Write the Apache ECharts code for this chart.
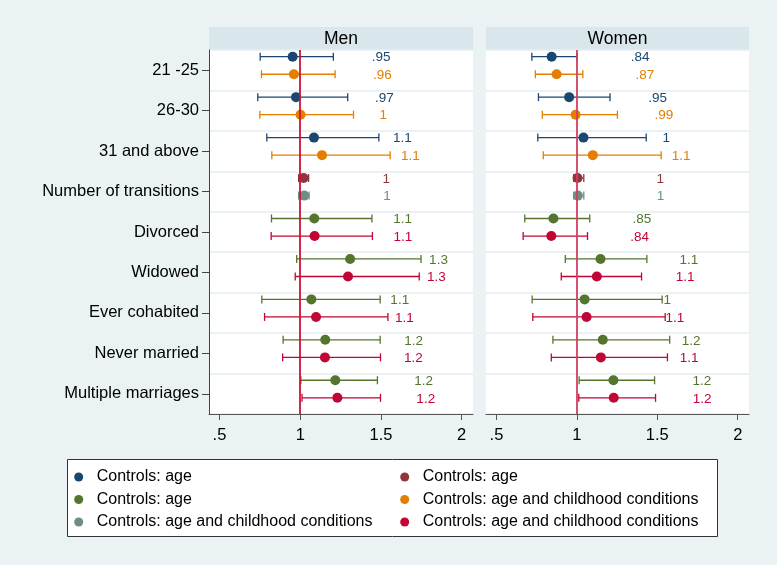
<!DOCTYPE html>
<html>
<head>
<meta charset="utf-8">
<script src="https://cdn.jsdelivr.net/npm/echarts@6/dist/echarts.min.js"></script>
<style>html,body{margin:0;padding:0;background:#eaf2f3;}#c{width:777px;height:565px;}</style>
</head>
<body>
<div id="c"></div>
<script>
// ---------- data ----------
const categories = ['21 -25', '26-30', '31 and above', 'Number of transitions', 'Divorced', 'Widowed', 'Ever cohabited', 'Never married', 'Multiple marriages'];
const panels = ['Men', 'Women'];
const xTicks = [0.5, 1, 1.5, 2];
const legendLabels = ['Controls: age', 'Controls: age', 'Controls: age', 'Controls: age and childhood conditions', 'Controls: age and childhood conditions', 'Controls: age and childhood conditions'];
// each row: [lower CI, estimate, upper CI]
const menNavy = [[0.752, 0.953, 1.205], [0.737, 0.974, 1.294], [0.793, 1.085, 1.487]];
const menOrange = [[0.760, 0.961, 1.216], [0.750, 1.002, 1.330], [0.824, 1.135, 1.557]];
const menMaroon = [[0.990, 1.021, 1.052]];
const menTeal = [[0.990, 1.025, 1.055]];
const menGreen = [[0.822, 1.087, 1.444], [0.978, 1.309, 1.748], [0.762, 1.069, 1.495], [0.894, 1.155, 1.495], [1.004, 1.217, 1.478]];
const menCranberry = [[0.820, 1.089, 1.447], [0.969, 1.296, 1.737], [0.779, 1.098, 1.543], [0.891, 1.153, 1.497], [1.011, 1.230, 1.497]];
const womenNavy = [[0.720, 0.843, 1.000], [0.761, 0.952, 1.206], [0.757, 1.041, 1.431]];
const womenOrange = [[0.742, 0.874, 1.037], [0.785, 0.992, 1.252], [0.791, 1.099, 1.524]];
const womenMaroon = [[0.980, 1.004, 1.043]];
const womenTeal = [[0.980, 1.006, 1.043]];
const womenGreen = [[0.676, 0.854, 1.080], [0.928, 1.147, 1.435], [0.722, 1.048, 1.530], [0.851, 1.161, 1.577], [1.014, 1.227, 1.483]];
const womenCranberry = [[0.666, 0.841, 1.066], [0.903, 1.124, 1.402], [0.726, 1.060, 1.549], [0.841, 1.149, 1.563], [1.012, 1.229, 1.489]];
// first category row for each series group
const ageRowsStart = 0, transRowsStart = 3, maritalRowsStart = 4;

// ---------- styling ----------
const FONT = '"Liberation Sans", Arial, sans-serif';
const colors = ['#1a476f', '#90353b', '#55752f', '#e37e00', '#6e8e84', '#c10534'];
const seriesKeys = ['navy', 'maroon', 'green', 'orange', 'teal', 'cranberry'];
const slotOffset = { navy: -0.334, maroon: -0.334, green: -0.334, orange: 0.10, teal: 0.10, cranberry: 0.10 };

function fmt(v) {
  let s = String(Number(v.toPrecision(2)));
  return s.replace(/^0\./, '.');
}
function fmtTick(v) { return String(v).replace(/^0\./, '.'); }

function rows(arr, start) { return arr.map((r, i) => [r[0], r[1], r[2], start + i]); }

const panelData = [
  { navy: rows(menNavy, ageRowsStart), orange: rows(menOrange, ageRowsStart), maroon: rows(menMaroon, transRowsStart), teal: rows(menTeal, transRowsStart), green: rows(menGreen, maritalRowsStart), cranberry: rows(menCranberry, maritalRowsStart) },
  { navy: rows(womenNavy, ageRowsStart), orange: rows(womenOrange, ageRowsStart), maroon: rows(womenMaroon, transRowsStart), teal: rows(womenTeal, transRowsStart), green: rows(womenGreen, maritalRowsStart), cranberry: rows(womenCranberry, maritalRowsStart) }
];

function makeRender(off, color) {
  return function (params, api) {
    const lo = api.value(0), est = api.value(1), hi = api.value(2), cat = api.value(3);
    const pE = api.coord([est, cat]);
    const pL = api.coord([lo, cat]);
    const pH = api.coord([hi, cat]);
    const band = api.size([0, 1])[1];
    const y = pE[1] + band * off;
    const ls = { stroke: color, lineWidth: 1.3 };
    return {
      type: 'group',
      children: [
        { type: 'line', shape: { x1: pL[0], y1: y, x2: pH[0], y2: y }, style: ls },
        { type: 'line', shape: { x1: pL[0], y1: y - 4, x2: pL[0], y2: y + 4 }, style: ls },
        { type: 'line', shape: { x1: pH[0], y1: y - 4, x2: pH[0], y2: y + 4 }, style: ls },
        { type: 'circle', shape: { cx: pE[0], cy: y, r: 5 }, style: { fill: color } },
        { type: 'text', x: pE[0] + 79, y: y + 1, style: { text: fmt(est), fill: color, font: '13.5px ' + FONT, textAlign: 'left', textVerticalAlign: 'middle' } }
      ]
    };
  };
}

const grids = [
  { left: 209, top: 50, width: 264, height: 364, show: true, backgroundColor: '#ffffff', borderWidth: 0 },
  { left: 486, top: 50, width: 263, height: 364, show: true, backgroundColor: '#ffffff', borderWidth: 0 }
];
const xAxes = grids.map((g, i) => ({
  type: 'value', gridIndex: i, min: 0.435, max: 2.07,
  axisLine: { show: true, lineStyle: { color: '#555', width: 1 } },
  axisTick: { show: true, length: 6, customValues: xTicks, lineStyle: { color: '#555' } },
  axisLabel: { customValues: xTicks, formatter: fmtTick, color: '#000', fontSize: 16.5, fontFamily: FONT, margin: 13 },
  splitLine: { show: false }
}));
const yAxes = grids.map((g, i) => ({
  type: 'category', gridIndex: i, data: categories, inverse: true, boundaryGap: true,
  axisLine: { show: i === 0, lineStyle: { color: '#444', width: 1 } },
  axisTick: { show: i === 0, alignWithLabel: true, length: 7, lineStyle: { color: '#444' } },
  axisLabel: { show: i === 0, color: '#000', fontSize: 16.5, fontFamily: FONT, margin: 10 },
  splitLine: { show: true, lineStyle: { color: '#e6eef1', width: 1.5 } }
}));

const series = [];
[0, 1].forEach(p => {
  series.push({
    type: 'line', xAxisIndex: p, yAxisIndex: p, data: [], silent: true, z: 1,
    markLine: { silent: true, symbol: 'none', label: { show: false },
      lineStyle: { color: p === 0 ? '#cf1134' : '#d13f62', width: 1.8, type: 'solid' },
      data: [{ xAxis: 1 }] }
  });
  seriesKeys.forEach((k, si) => {
    series.push({
      name: 's' + si, type: 'custom', xAxisIndex: p, yAxisIndex: p, z: 3,
      itemStyle: { color: colors[si] },
      encode: { x: [0, 1, 2], y: 3 },
      renderItem: makeRender(slotOffset[k], colors[si]),
      data: panelData[p][k]
    });
  });
});

const legendCommon = {
  orient: 'vertical', icon: 'circle', itemWidth: 9, itemHeight: 9, itemGap: 6.5,
  padding: 0,
  textStyle: { color: '#000', fontSize: 16, fontFamily: FONT, padding: [0, 0, 0, 8.5] }, selectedMode: false, z: 10,
  formatter: name => legendLabels[Number(name.slice(1))]
};

const option = {
  backgroundColor: '#eaf2f3',
  animation: false,
  grid: grids,
  xAxis: xAxes,
  yAxis: yAxes,
  series: series,
  legend: [
    Object.assign({}, legendCommon, { left: 74.2, top: 469, data: ['s0', 's2', 's4'] }),
    Object.assign({}, legendCommon, { left: 400.2, top: 469, data: ['s1', 's3', 's5'] })
  ],
  graphic: [
    { type: 'rect', z: 0, shape: { x: 209, y: 27, width: 264, height: 23 }, style: { fill: '#d9e6eb' } },
    { type: 'rect', z: 0, shape: { x: 486, y: 27, width: 263, height: 23 }, style: { fill: '#d9e6eb' } },
    { type: 'text', z: 1, x: 341, y: 39, style: { text: panels[0], font: '17.5px ' + FONT, fill: '#000', textAlign: 'center', textVerticalAlign: 'middle' } },
    { type: 'text', z: 1, x: 617.5, y: 39, style: { text: panels[1], font: '17.5px ' + FONT, fill: '#000', textAlign: 'center', textVerticalAlign: 'middle' } },
    { type: 'rect', z: 0, shape: { x: 67.5, y: 459.5, width: 650, height: 77 }, style: { fill: '#ffffff', stroke: '#333', lineWidth: 1 } }
  ]
};

const chart = echarts.init(document.getElementById('c'), null, { renderer: 'canvas' });
chart.setOption(option);
</script>
</body>
</html>
